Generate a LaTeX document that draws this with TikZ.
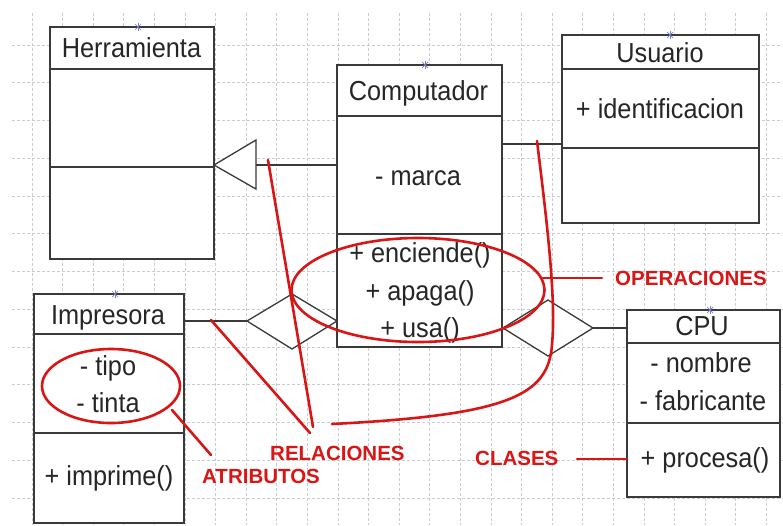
\documentclass[tikz,border=0pt]{standalone}
\usepackage{fontspec}
\setmainfont{Liberation Sans}
\newfontfamily\classfont[FakeStretch=0.92]{Liberation Sans}
\usetikzlibrary{shapes.geometric}
\definecolor{boxc}{HTML}{3A3A3A}
\definecolor{txtc}{HTML}{262626}
\definecolor{redc}{HTML}{D81616}
\definecolor{gridc}{HTML}{C8CCD4}
\definecolor{handc}{HTML}{7A7FC8}
\begin{document}
\begin{tikzpicture}[x=1pt,y=-1pt,
  box/.style={draw=boxc, line width=1.6pt, fill=white, inner sep=0pt, outer sep=0pt, anchor=north west},
  divline/.style={draw=boxc, line width=1.6pt},
  lbl/.style={text=txtc, font=\classfont\fontsize{27.5}{30}\selectfont, inner sep=0pt, anchor=base},
  assoc/.style={draw=boxc, line width=1.3pt},
  redline/.style={draw=redc, line width=2.6pt, line cap=round},
  redell/.style={draw=redc, line width=2.6pt, ellipse, inner sep=0pt},
  redtxt/.style={text=redc, font=\fontsize{20.5}{22}\selectfont\bfseries, inner sep=0pt, anchor=base west},
  handle/.style={draw=handc, line width=0.7pt},
  gridline/.style={draw=gridc, line width=0.8pt, dash pattern=on 3pt off 2pt}
]
\useasboundingbox (0,0) rectangle (783,525);
\fill[white] (0,0) rectangle (783,525);
% grid
\foreach \k in {0,...,24} {
  \draw[gridline] ({32+30.6*\k},13) -- ({32+30.6*\k},525);
}
\foreach \k in {0,...,12} {
  \draw[gridline] (12,{45+37.75*\k}) -- (783,{45+37.75*\k});
}
% class boxes
\node[box, minimum width=164pt, minimum height=232pt] (herr) at (50,27) {};
\node[box, minimum width=165pt, minimum height=282pt] (comp) at (337,65) {};
\node[box, minimum width=197pt, minimum height=188pt] (usu) at (562,35) {};
\node[box, minimum width=150pt, minimum height=229pt] (imp) at (34,294) {};
\node[box, minimum width=153pt, minimum height=187pt] (cpu) at (627,310) {};
% dividers
\draw[divline] ([yshift=-42pt]herr.north west) -- ([yshift=-42pt]herr.north east);
\draw[divline] ([yshift=-140pt]herr.north west) -- ([yshift=-140pt]herr.north east);
\draw[divline] ([yshift=-51pt]comp.north west) -- ([yshift=-51pt]comp.north east);
\draw[divline] ([yshift=-169pt]comp.north west) -- ([yshift=-169pt]comp.north east);
\draw[divline] ([yshift=-34pt]usu.north west) -- ([yshift=-34pt]usu.north east);
\draw[divline] ([yshift=-113pt]usu.north west) -- ([yshift=-113pt]usu.north east);
\draw[divline] ([yshift=-40pt]imp.north west) -- ([yshift=-40pt]imp.north east);
\draw[divline] ([yshift=-139pt]imp.north west) -- ([yshift=-139pt]imp.north east);
\draw[divline] ([yshift=-33pt]cpu.north west) -- ([yshift=-33pt]cpu.north east);
\draw[divline] ([yshift=-113pt]cpu.north west) -- ([yshift=-113pt]cpu.north east);
% texts
\node[lbl] (tHerr) at (131.5,57) {Herramienta};
\node[lbl] (tComp) at (418.5,100) {Computador};
\node[lbl] (tMarca) at (418,185) {- marca};
\node[lbl] (tEnc) at (420,262) {+ enciende()};
\node[lbl] (tApa) at (420,300) {+ apaga()};
\node[lbl] (tUsa) at (420,337) {+ usa()};
\node[lbl] (tUsu) at (660,62) {Usuario};
\node[lbl] (tIdent) at (660,118) {+ identificacion};
\node[lbl] (tImp) at (108,324) {Impresora};
\node[lbl] (tTipo) at (108,375) {- tipo};
\node[lbl] (tTinta) at (108,412) {- tinta};
\node[lbl] (tImpr) at (109,485) {+ imprime()};
\node[lbl] (tCPU) at (702,335) {CPU};
\node[lbl] (tNom) at (701,372) {- nombre};
\node[lbl] (tFab) at (703,410) {- fabricante};
\node[lbl] (tProc) at (705,467) {+ procesa()};
% generalization
\coordinate (gtip) at (214,165);
\coordinate (gbase) at (256,165);
\draw[assoc, fill=white] (gtip) -- ([yshift=25pt]gbase) -- ([yshift=-24pt]gbase) -- cycle;
\draw[assoc] (gbase) -- (gbase -| comp.west);
% association Computador - Usuario
\coordinate (ua) at (502,144);
\draw[assoc] (ua) -- (ua -| usu.west);
% aggregation Impresora - Computador
\coordinate (d1r) at (337,321);
\coordinate (d1l) at (247,321);
\draw[assoc] (d1l -| imp.east) -- (d1l);
\draw[assoc, fill=white] (d1l) -- (292,294) -- (d1r) -- (292,349) -- cycle;
% aggregation Computador - CPU
\coordinate (d2l) at (503,328);
\coordinate (d2r) at (593,328);
\draw[assoc, fill=white] (d2l) -- (548,300) -- (d2r) -- (548,356) -- cycle;
\draw[assoc] (d2r) -- (d2r -| cpu.west);
% selection handles
\foreach \hx/\hy in {138/27, 425/65, 670/35, 115/294, 710/310} {
  \draw[handle] ({\hx-3},{\hy-3}) -- ({\hx+3},{\hy+3});
  \draw[handle] ({\hx-3},{\hy+3}) -- ({\hx+3},{\hy-3});
  \draw[handle] ({\hx},{\hy-4}) -- ({\hx},{\hy+4});
}
% red annotations
\node[redell, minimum width=138pt, minimum height=74pt] (eAttr) at (111,386) {};
\node[redell, minimum width=253pt, minimum height=104pt] (eOps) at (418,290) {};
\node[redtxt] (lOps) at (615,285) {OPERACIONES};
\node[redtxt] (lRel) at (270,460) {RELACIONES};
\node[redtxt] (lAtr) at (202,483) {ATRIBUTOS};
\node[redtxt] (lCla) at (475,465) {CLASES};
\coordinate (o1) at (543,278);
\coordinate (o2) at (602,278);
\draw[redline] (o1) -- (o2);
\coordinate (c1) at (577,459);
\draw[redline] (c1) -- (c1 -| cpu.west);
\coordinate (a1) at (172,410);
\coordinate (a2) at (211,455);
\draw[redline] (a1) -- (a2);
\coordinate (r1a) at (268,160);
\coordinate (r1b) at (313,427);
\draw[redline] (r1a) -- (r1b);
\coordinate (r2a) at (211,320);
\coordinate (r2b) at (310,433);
\draw[redline] (r2a) -- (r2b);
\coordinate (r3a) at (537,141);
\coordinate (r3m) at (552,345);
\coordinate (r3b) at (332,424);
\draw[redline] (r3a) .. controls (548,230) and (556,300) .. (r3m) .. controls (548,395) and (510,415) .. (r3b);
\end{tikzpicture}
\end{document}
